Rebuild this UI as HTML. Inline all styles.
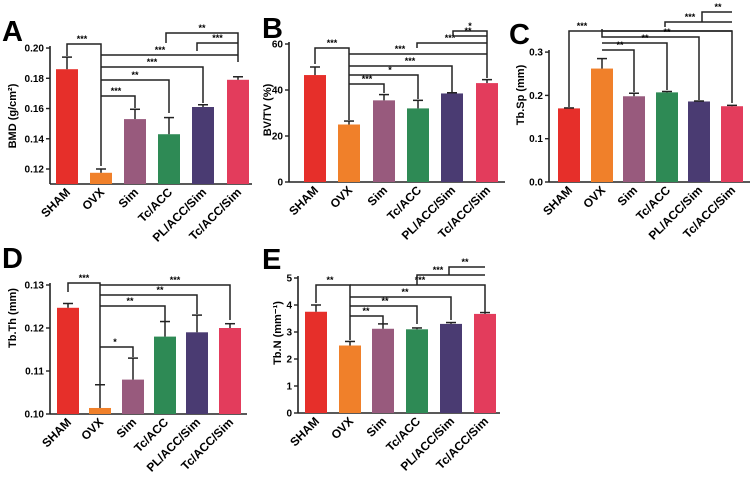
<!DOCTYPE html><html><head><meta charset="utf-8"><style>body{margin:0;background:#fff}svg{display:block}text{font-family:"Liberation Sans",Arial,sans-serif;font-weight:bold}</style></head><body>
<svg id="s" width="752" height="479" xmlns="http://www.w3.org/2000/svg"></svg>
<script>
const C=["#e62f2a","#f0802a","#985a7d","#2e8a55","#4a3b72","#e33c5c"];
const N=["SHAM","OVX","Sim","Tc/ACC","PL/ACC/Sim","Tc/ACC/Sim"];
let h='';
function P(o){
 const Y=v=>o.y0-(v-o.v0)*o.sc;
 h+=`<line x1="${o.ax}" y1="${o.top-2}" x2="${o.ax}" y2="${o.xy}" stroke="#222" stroke-width="1.6"/>`;
 h+=`<line x1="${o.ax}" y1="${o.xy}" x2="${o.xe}" y2="${o.xy}" stroke="#222" stroke-width="1.6"/>`;
 o.ticks.forEach(t=>{const y=Y(t[0]);h+=`<line x1="${o.ax-4}" y1="${y}" x2="${o.ax}" y2="${y}" stroke="#222" stroke-width="1.4"/><text x="${o.ax-6}" y="${y+3.5}" font-size="10" text-anchor="end">${t[1]}</text>`;});
 o.c.forEach((cx,i)=>{const v=o.v[i],e=o.e[i],yt=Y(v),ye=Y(e);
  h+=`<rect x="${cx-11}" y="${yt}" width="22" height="${o.xy-yt}" fill="${C[i]}"/>`;
  h+=`<line x1="${cx}" y1="${yt}" x2="${cx}" y2="${ye}" stroke="#222" stroke-width="1.5"/><line x1="${cx-5}" y1="${ye}" x2="${cx+5}" y2="${ye}" stroke="#222" stroke-width="1.5"/>`;
  h+=`<text transform="translate(${cx+4},${o.xy+9}) rotate(-45)" font-size="12" text-anchor="end">${N[i]}</text>`;});
 o.br.forEach(b=>{const[x1,x2,y,d1,d2,l,lx]=b;
  h+=`<polyline points="${x1},${d1} ${x1},${y} ${x2},${y} ${x2},${d2}" fill="none" stroke="#222" stroke-width="1.5"/>`;
  h+=`<text x="${lx||(x1+x2)/2}" y="${y-2}" font-size="9" text-anchor="middle">${l}</text>`;});
 h+=`<text transform="translate(${o.lx},${o.ly}) rotate(-90)" font-size="11" text-anchor="middle">${o.yl}</text>`;
 h+=`<text x="${o.L[1]}" y="${o.L[2]}" font-size="29" font-family="Liberation Sans">${o.L[0]}</text>`;
}
P({ax:50,xy:184,xe:252,top:48,y0:169,v0:0.12,sc:1512,ticks:[[0.12,"0.12"],[0.14,"0.14"],[0.16,"0.16"],[0.18,"0.18"],[0.2,"0.20"]],
 c:[67,101,135,169,203,238],v:[.186,.1175,.153,.143,.161,.179],e:[.194,.120,.1595,.154,.1625,.181],
 br:[[67,101,44,56,166,"***",82],[101,238,55,55,55,"***",160],[101,203,67,67,103,"***"],[101,169,80,80,113,"**"],[101,135,96,96,108,"***",116],[166,238,33,43,62,"**"],[197,238,43,51,43,"***"]],
 lx:16,ly:116,yl:"BMD (g/cm²)",L:["A",2,41]});
P({ax:289,xy:182,xe:505,top:44,y0:182,v0:0,sc:2.3,ticks:[[0,"0"],[20,"20"],[40,"40"],[60,"60"]],
 c:[315,349,384,418,452,487],v:[46.5,25,35.5,32,38.5,43],e:[50,26.5,38,35.5,38.8,44.5],
 br:[[315,349,48,64,120,"***",332],[349,487,54,54,54,"***",400],[349,452,66,66,92,"***",410],[349,418,75,75,99,"*",390],[349,384,84,84,93,"***",367],[417,487,43,48,43,"***",450],[453,487,36,36,36,"**",468],[453,487,31,36,78,"*",470]],
 lx:271,ly:110,yl:"BV/TV (%)",L:["B",262,38]});
P({ax:549,xy:182,xe:750,top:52,y0:182,v0:0,sc:433,ticks:[[0,"0.0"],[0.1,"0.1"],[0.2,"0.2"],[0.3,"0.3"]],
 c:[569,602,634,667,699,732],v:[.17,.262,.198,.207,.186,.175],e:[.171,.285,.205,.209,.187,.177],
 br:[[569,732,31,107,103,"***",582],[602,732,31,31,31,""],[602,699,37,29,100,"**",667],[602,667,43,43,90,"**",645],[602,634,50,50,92,"**",620],[665,732,22,27,22,"***",690],[702,732,12,22,12,"**",718]],
 lx:524,ly:95,yl:"Tb.Sp (mm)",L:["C",509,44]});
P({ax:50,xy:414,xe:247,top:285,y0:414,v0:0.10,sc:4300,ticks:[[0.10,"0.10"],[0.11,"0.11"],[0.12,"0.12"],[0.13,"0.13"]],
 c:[68,100,133,165,197,230],v:[.1247,.1014,.108,.118,.119,.12],e:[.1257,.1068,.113,.1215,.123,.121],
 br:[[68,100,283,292,385,"***",84],[100,230,285,285,320,"***",175],[100,197,295,295,314,"**",160],[100,165,306,306,322,"**",130],[100,133,347,347,357,"*",115]],
 lx:16,ly:318,yl:"Tb.Th (mm)",L:["D",2,268]});
P({ax:298,xy:413,xe:500,top:278,y0:413,v0:0,sc:27,ticks:[[0,"0"],[1,"1"],[2,"2"],[3,"3"],[4,"4"],[5,"5"]],
 c:[316,350,383,417,451,485],v:[3.75,2.5,3.12,3.1,3.3,3.67],e:[4.0,2.65,3.3,3.15,3.35,3.72],
 br:[[316,350,285,303,340,"**",330],[350,485,285,285,312,"***",420],[350,451,297,297,320,"**",405],[350,417,306,306,324,"**",385],[350,383,316,316,324,"**",366],[417,485,275,285,275,"***",438],[449,485,267,275,267,"**",465]],
 lx:281,ly:333,yl:"Tb.N (mm⁻¹)",L:["E",262,269]});
document.getElementById('s').innerHTML=h;
</script></body></html>
